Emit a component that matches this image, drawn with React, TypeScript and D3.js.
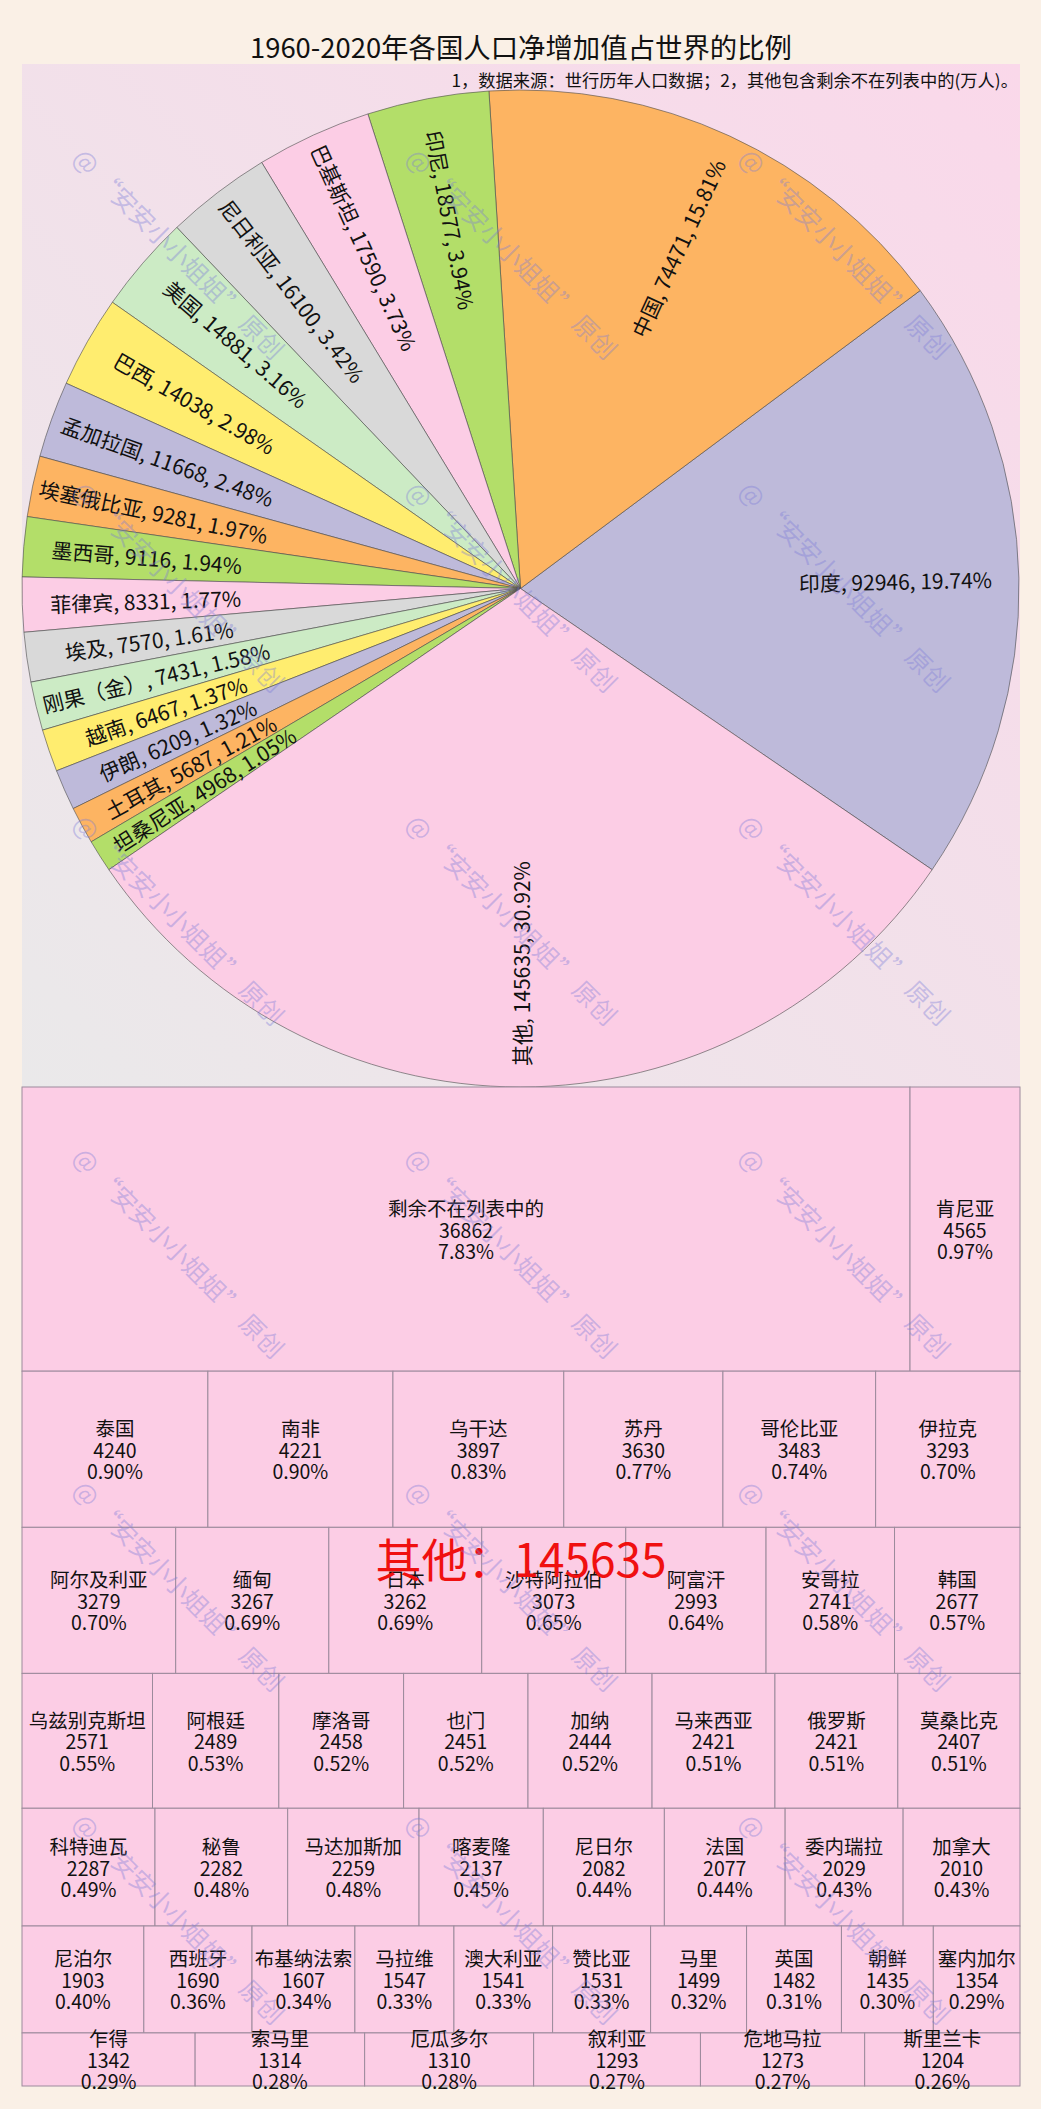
import React from "react";
import * as d3 from "d3";

// ---------- data ----------
const titleText = "1960-2020年各国人口净增加值占世界的比例";
const noteText = "1，数据来源：世行历年人口数据；2，其他包含剩余不在列表中的(万人)。";

const pieNames = ["印度", "中国", "印尼", "巴基斯坦", "尼日利亚", "美国", "巴西", "孟加拉国", "埃塞俄比亚", "墨西哥", "菲律宾", "埃及", "刚果（金）", "越南", "伊朗", "土耳其", "坦桑尼亚", "其他"];
const pieValues = [92946, 74471, 18577, 17590, 16100, 14881, 14038, 11668, 9281, 9116, 8331, 7570, 7431, 6467, 6209, 5687, 4968, 145635];
const pieColors = ["#BEBADA", "#FDB462", "#B3DE69", "#FCCDE5", "#D9D9D9", "#CCEBC5", "#FFED6F"];

const otherNames = [
  "剩余不在列表中的", "肯尼亚",
  "泰国", "南非", "乌干达", "苏丹", "哥伦比亚", "伊拉克",
  "阿尔及利亚", "缅甸", "日本", "沙特阿拉伯", "阿富汗", "安哥拉", "韩国",
  "乌兹别克斯坦", "阿根廷", "摩洛哥", "也门", "加纳", "马来西亚", "俄罗斯", "莫桑比克",
  "科特迪瓦", "秘鲁", "马达加斯加", "喀麦隆", "尼日尔", "法国", "委内瑞拉", "加拿大",
  "尼泊尔", "西班牙", "布基纳法索", "马拉维", "澳大利亚", "赞比亚", "马里", "英国", "朝鲜", "塞内加尔",
  "乍得", "索马里", "厄瓜多尔", "叙利亚", "危地马拉", "斯里兰卡",
];
const otherValues = [
  36862, 4565,
  4240, 4221, 3897, 3630, 3483, 3293,
  3279, 3267, 3262, 3073, 2993, 2741, 2677,
  2571, 2489, 2458, 2451, 2444, 2421, 2421, 2407,
  2287, 2282, 2259, 2137, 2082, 2077, 2029, 2010,
  1903, 1690, 1607, 1547, 1541, 1531, 1499, 1482, 1435, 1354,
  1342, 1314, 1310, 1293, 1273, 1204,
];
const otherPcts = [
  7.83, 0.97,
  0.90, 0.90, 0.83, 0.77, 0.74, 0.70,
  0.70, 0.69, 0.69, 0.65, 0.64, 0.58, 0.57,
  0.55, 0.53, 0.52, 0.52, 0.52, 0.51, 0.51, 0.51,
  0.49, 0.48, 0.48, 0.45, 0.44, 0.44, 0.43, 0.43,
  0.40, 0.36, 0.34, 0.33, 0.33, 0.33, 0.32, 0.31, 0.30, 0.29,
  0.29, 0.28, 0.28, 0.27, 0.27, 0.26,
];
const otherTotalLabel = "其他：145635";
const watermarkText = "@ “安安小小姐姐” 原创";

// ---------- layout ----------
const W = 1041;
const H = 2109;
const panelX0 = 22;
const panelX1 = 1020;
const pieTop = 64;
const pieBottom = 1087;
const treeBottom = 2086;
const cx = 520.5;
const cy = 588.5;
const R = 498.5;
const labelR = 375;
const FONT = '"Noto Sans CJK SC", "Noto Sans", sans-serif';

const worldTotal = d3.sum(pieValues);
const fmtPct = d3.format(".2%");
const fmt2 = d3.format(".2f");

// row-based squarified tiling (horizontal rows)
function rowTile(parent: any, x0: number, y0: number, x1: number, y1: number) {
  const nodes = parent.children;
  const n = nodes.length;
  let value = parent.value;
  let i0 = 0;
  while (i0 < n) {
    const dx = x1 - x0;
    const dy = y1 - y0;
    const worst = (s: number, mn: number, mx: number) => {
      const h = (dy * s) / value;
      const wMax = (dx * mx) / s;
      const wMin = (dx * mn) / s;
      return Math.max(wMax / h, h / wMin);
    };
    let sum = nodes[i0].value;
    let mn = sum;
    let mx = sum;
    let best = worst(sum, mn, mx);
    let i1 = i0 + 1;
    while (i1 < n) {
      const v = nodes[i1].value;
      const r = worst(sum + v, Math.min(mn, v), Math.max(mx, v));
      if (r > best) break;
      sum += v;
      mn = Math.min(mn, v);
      mx = Math.max(mx, v);
      best = r;
      i1++;
    }
    const ny = value ? y0 + (dy * sum) / value : y1;
    const row: any = { value: sum, children: nodes.slice(i0, i1) };
    d3.treemapDice(row, x0, y0, x1, ny);
    y0 = ny;
    value -= sum;
    i0 = i1;
  }
}

export default function App() {
  React.useEffect(() => {
    document.body.style.margin = "0";
    document.body.style.background = "#FAF0E6";
  }, []);

  const pieData = pieNames.map((name, i) => ({ name, value: pieValues[i], idx: i }));
  const otherFrac = pieValues[pieValues.length - 1] / worldTotal;
  const a0 = Math.PI * (1 - otherFrac);
  const pie = d3
    .pie<any>()
    .sort(null)
    .value((d: any) => d.value)
    .startAngle(a0)
    .endAngle(a0 - 2 * Math.PI);
  const arcs = pie(pieData);
  const arcGen = d3.arc<any>().innerRadius(0).outerRadius(R);

  const treeData = {
    children: otherNames.map((name, i) => ({ name, value: otherValues[i], pct: otherPcts[i] })),
  };
  const root = d3.hierarchy<any>(treeData).sum((d: any) => d.value || 0);
  d3
    .treemap<any>()
    .size([panelX1 - panelX0, treeBottom - pieBottom])
    .tile(rowTile as any)
    .round(false)(root);
  const leaves = root.leaves() as any[];

  const marks: { x: number; y: number }[] = [];
  for (let j = 0; j < 6; j++) {
    for (let i = 0; i < 3; i++) {
      marks.push({ x: 79 + 333 * i, y: 152 + 333 * j });
    }
  }

  return (
    <div style={{ position: "absolute", left: 0, top: 0 }}>
      <svg width={W} height={H} style={{ display: "block" }} fontFamily={FONT}>
        <defs>
          <linearGradient id="bgGrad" x1="0" y1="1" x2="1" y2="0">
            <stop offset="0%" stopColor="#EAE9EA" />
            <stop offset="100%" stopColor="#FAD8EA" />
          </linearGradient>
        </defs>
        <rect x={0} y={0} width={W} height={H} fill="#FAF0E6" />
        <rect x={panelX0} y={pieTop} width={panelX1 - panelX0} height={pieBottom - pieTop} fill="url(#bgGrad)" />

        <text x={521} y={46} textAnchor="middle" dominantBaseline="central" fontSize={27.4} fill="#111">
          {titleText}
        </text>
        <text x={1018} y={79} textAnchor="end" dominantBaseline="central" fontSize={17.3} fill="#111">
          {noteText}
        </text>

        <g transform={`translate(${cx},${cy})`}>
          {arcs.map((a: any) => (
            <path
              key={a.data.name}
              d={arcGen(a) as string}
              fill={pieColors[a.data.idx % pieColors.length]}
              stroke="#4a4a4a"
              strokeWidth={0.6}
            />
          ))}
          {arcs.map((a: any) => {
            const mid = (a.startAngle + a.endAngle) / 2;
            const x = labelR * Math.sin(mid);
            const y = -labelR * Math.cos(mid);
            const right = Math.sin(mid) > 1e-6;
            const deg = (mid * 180) / Math.PI;
            const rot = right ? deg - 90 : deg + 90;
            const pct = fmtPct(a.data.value / worldTotal);
            return (
              <text
                key={"l" + a.data.name}
                transform={`translate(${x},${y}) rotate(${rot})`}
                textAnchor="middle"
                dominantBaseline="central"
                fontSize={21}
                fill="#111"
              >
                {`${a.data.name}, ${a.data.value}, ${pct}`}
              </text>
            );
          })}
        </g>

        <g transform={`translate(${panelX0},${pieBottom})`}>
          {leaves.map((d: any) => (
            <rect
              key={"r" + d.data.name}
              x={d.x0}
              y={d.y0}
              width={d.x1 - d.x0}
              height={d.y1 - d.y0}
              fill="#FCCDE5"
              stroke="#9C8A9C"
              strokeWidth={1}
            />
          ))}
          {leaves.map((d: any) => {
            const mx = (d.x0 + d.x1) / 2;
            const my = (d.y0 + d.y1) / 2;
            return (
              <text key={"t" + d.data.name} textAnchor="middle" fontSize={19.5} fill="#111">
                <tspan x={mx} y={my - 21.5} dominantBaseline="central">{d.data.name}</tspan>
                <tspan x={mx} y={my} dominantBaseline="central">{d.data.value}</tspan>
                <tspan x={mx} y={my + 21.5} dominantBaseline="central">{fmt2(d.data.pct) + "%"}</tspan>
              </text>
            );
          })}
        </g>

        <text x={521} y={1557} textAnchor="middle" dominantBaseline="central" fontSize={46} fill="#F01010">
          {otherTotalLabel}
        </text>

        <g fill="#7C7CD8" fillOpacity={0.38} fontSize={25}>
          {marks.map((m, k) => (
            <text key={"w" + k} transform={`translate(${m.x},${m.y}) rotate(45)`} dominantBaseline="central">
              {watermarkText}
            </text>
          ))}
        </g>
      </svg>
    </div>
  );
}
